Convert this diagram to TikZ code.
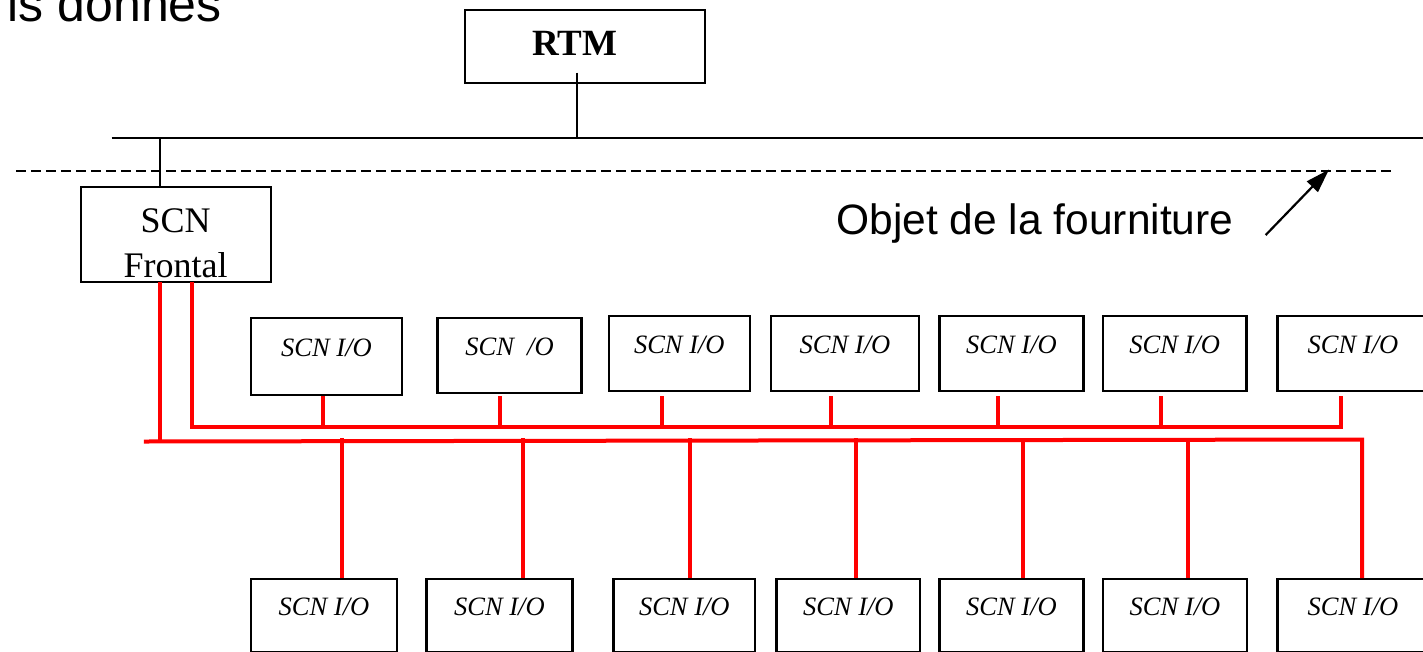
\documentclass[tikz,border=0pt]{standalone}
\usepackage{fontspec}
\setmainfont{Liberation Serif}
\newfontfamily\arialf{Liberation Sans}
\usetikzlibrary{arrows.meta,calc}
\begin{document}
\begin{tikzpicture}[x=1pt,y=-1pt,
  box/.style={draw=black,line width=2.2pt,rectangle,inner sep=0pt},
  iobox/.style={box,font=\fontsize{26.5}{30}\selectfont\itshape,text height=10pt,text depth=10pt},
  topio/.style={iobox,minimum height=75pt},
  botio/.style={iobox,minimum height=73pt},
  blk/.style={line width=2.2pt,black},
  redl/.style={line width=4pt,red},
  sanstext/.style={font=\arialf\fontsize{42.5}{50}\selectfont,inner sep=0pt}
]
\useasboundingbox (0,0) rectangle (1423,651);
\fill[white] (0,0) rectangle (1423,651);

% heading fragment
\node[sanstext,font=\arialf\fontsize{50}{60}\selectfont,anchor=base east] (head) at (222,21.7) {is donnes};

% RTM
\node[box,minimum width=240pt,minimum height=73pt,font=\fontsize{37}{44}\selectfont\bfseries,
      text height=20pt,text depth=1.4pt] (rtm) at (585,46.5) {RTM\kern20pt};

% SCN Frontal
\node[box,minimum width=190pt,minimum height=95pt,text width=190pt,align=center,
      font=\fontsize{36}{45}\selectfont,text height=30pt,text depth=34.4pt] (fr) at (175.6,234.2) {SCN\\Frontal};

% label and arrow
\node[sanstext,anchor=base] (obj) at (1035,234.5) {Objet de la fourniture};
\coordinate (atail) at (1265.7,235);
\coordinate (ahead) at (1329,169.5);
\draw[blk,-{Triangle[length=24pt,width=15pt]}] (atail) -- (ahead);

% black bus and dashed boundary
\coordinate (busL) at (111.5,138.3);
\coordinate (busR) at (1430,138.3);
\coordinate (rtmin) at (576.6,72.7);
\coordinate (frtap) at (159.6,138.3);
\draw[blk] (busL) -- (busR);
\draw[blk] (rtmin) -- (rtmin |- busL);
\draw[blk] (frtap) -- (frtap |- fr.north);
\coordinate (dashL) at (16,170.5);
\coordinate (dashR) at (1395,170.5);
\draw[line width=2pt,dash pattern=on 10pt off 5pt] (dashL) -- (dashR);

% top row of I/O boxes
\node[topio,minimum width=151pt,minimum height=77pt] (t1) at (326.5,356.5) {SCN I/O};
\node[topio,minimum width=144pt] (t2) at (509.5,355.5) {SCN\ \ /O};
\node[topio,minimum width=141pt] (t3) at (679.3,353.5) {SCN I/O};
\node[topio,minimum width=147.6pt] (t4) at (845,353.5) {SCN I/O};
\node[topio,minimum width=144pt] (t5) at (1011.5,353.5) {SCN I/O};
\node[topio,minimum width=143.7pt] (t6) at (1174.7,353.5) {SCN I/O};
\node[topio,minimum width=151pt] (t7) at (1353,353.5) {SCN I/O};

% bottom row of I/O boxes
\node[botio,minimum width=146pt] (b1) at (324,615.8) {SCN I/O};
\node[botio,minimum width=146pt] (b2) at (499.4,615.8) {SCN I/O};
\node[botio,minimum width=141.5pt] (b3) at (684.3,615.8) {SCN I/O};
\node[botio,minimum width=143.5pt] (b4) at (848.3,615.8) {SCN I/O};
\node[botio,minimum width=144pt] (b5) at (1011.5,615.8) {SCN I/O};
\node[botio,minimum width=144pt] (b6) at (1175,615.8) {SCN I/O};
\node[botio,minimum width=151pt] (b7) at (1353,615.8) {SCN I/O};

% red field buses
\coordinate (fa) at (160,281.7);
\coordinate (fb) at (191.5,281.7);
\coordinate (ubL) at (191.5,427.3);
\coordinate (stubtop) at (0,396);
\coordinate (lbL) at (143.8,441.5);
\coordinate (lbR) at (1362,439.5);
\coordinate (lstub) at (0,438.3);

% tap points under the upper boxes
\foreach \t/\dx in {t1/-4,t2/-9.5,t3/-17.3,t4/-14,t5/-13.5,t6/-13.7,t7/-12}
  \coordinate (\t tap) at ($(\t.south)+(\dx,0)$);
% tap points above the lower boxes
\foreach \b/\dx in {b1/17.7,b2/23.1,b3/5.7,b4/7.7,b5/11.5,b6/13}
  \coordinate (\b tap) at ($(\b.north)+(\dx,0)$);

\draw[redl] (fa) -- (fa |- lbL);
\draw[redl] (fb) -- (ubL) -- (t7tap |- ubL) -- (t7tap |- stubtop);
\foreach \t in {t1,t2,t3,t4,t5,t6}
  \draw[redl] (\t tap |- stubtop) -- (\t tap |- ubL);

\draw[redl] (lbL) -- (lbR) -- (lbR |- b7.north);
\foreach \b in {b1,b2,b3,b4,b5,b6}
  \draw[redl] (\b tap |- lstub) -- (\b tap);
\end{tikzpicture}
\end{document}
